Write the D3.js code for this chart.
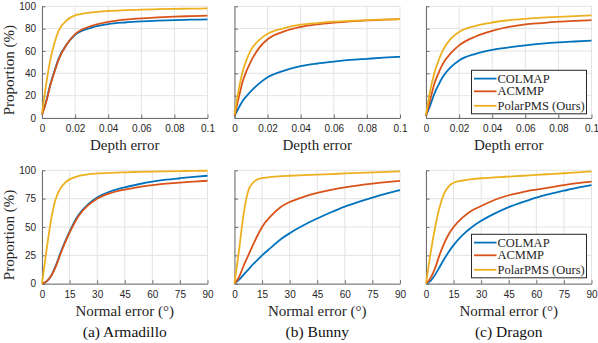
<!DOCTYPE html>
<html>
<head>
<meta charset="utf-8">
<script src="https://cdn.jsdelivr.net/npm/d3@7"></script>
<style>
  body { margin: 0; background: #fff; }
  .tick text { font-family: "Liberation Sans", Arial, sans-serif; font-size: 10px; fill: #262626; }
</style>
</head>
<body>
<div id="chart"></div>
<script>
// data
var methods = ["COLMAP", "ACMMP", "PolarPMS (Ours)"];
var colors = ["#0072BD", "#D95319", "#EDB120"];
var datasets = ["(a) Armadillo", "(b) Bunny", "(c) Dragon"];

var depthX = [0, 0.0025, 0.005, 0.0075, 0.01, 0.015, 0.02, 0.03, 0.04, 0.05, 0.06, 0.07, 0.08, 0.09, 0.1];
var depthTicks = [0, 0.02, 0.04, 0.06, 0.08, 0.1];
var depthYTicks = [0, 20, 40, 60, 80, 100];

var armadilloDepth = [
  [3, 15, 30, 42, 53, 66, 74.5, 81, 84, 85.5, 86.5, 87.2, 87.7, 88, 88.3],
  [3, 14, 29, 41, 52, 66, 75, 82.5, 86, 88, 89.2, 90, 90.7, 91.2, 91.6],
  [4, 30, 52, 67, 78, 87.5, 91.8, 94.5, 95.8, 96.5, 97, 97.4, 97.7, 97.9, 98.1]
];
var bunnyDepth = [
  [2, 9, 15.5, 20, 24, 31, 36.5, 42.5, 46.5, 48.8, 50.5, 52, 53, 54, 54.8],
  [2, 18, 33, 43, 51, 63, 70.5, 77.5, 81.5, 83.8, 85.3, 86.5, 87.4, 88, 88.5],
  [3, 25, 42, 53, 61, 70, 75.5, 80.5, 83.5, 85, 86.2, 87, 87.6, 88.1, 88.5]
];
var dragonDepth = [
  [2, 11, 21.5, 29.5, 36.5, 45.5, 51.5, 57.5, 61, 63.2, 65, 66.5, 67.7, 68.5, 69.2],
  [2, 16, 30.5, 40, 48, 58, 65, 73, 78, 81.5, 83.8, 85, 86.2, 87, 87.6],
  [3, 24, 40, 51, 60, 71, 77, 82.5, 85.5, 87.5, 88.8, 89.8, 90.5, 91.2, 91.8]
];

var normalX = [0, 2.5, 5, 7.5, 10, 12.5, 15, 20, 25, 30, 37.5, 45, 52.5, 60, 67.5, 75, 82.5, 90];
var normalTicks = [0, 15, 30, 45, 60, 75, 90];
var normalYTicks = [0, 25, 50, 75, 100];

var armadilloNormal = [
  [0, 2, 7, 16, 27, 37, 46, 61, 70, 76, 81.5, 85, 87.7, 90, 91.7, 93, 94.2, 95.2],
  [0, 2, 7, 15, 26, 36, 45, 60, 69, 75, 80, 83, 85.2, 87, 88.2, 89.2, 90, 90.8],
  [0, 30, 57, 75, 84, 89, 92, 95, 96.5, 97.2, 97.8, 98.2, 98.6, 98.9, 99.1, 99.3, 99.5, 99.6]
];
var bunnyNormal = [
  [0, 3.5, 8, 12.5, 17, 21, 25, 32, 39, 44.5, 51.5, 57.5, 63, 68, 72.2, 76, 79.5, 82.6],
  [0, 6, 16, 25, 34, 42.5, 50, 60, 67.5, 72, 76.5, 80, 82.8, 85, 86.8, 88.3, 89.5, 90.6],
  [0, 30, 62, 82, 89, 92, 93, 94.2, 94.8, 95.2, 95.7, 96.2, 96.7, 97.2, 97.7, 98.2, 98.6, 99]
];
var dragonNormal = [
  [0, 2.5, 8, 15, 22, 28.5, 34, 43, 50, 55.5, 62, 67.5, 72, 76, 79.2, 82, 84.7, 87],
  [0, 5, 14, 26, 36, 44, 50, 58.5, 64.5, 68.5, 74, 78, 80.8, 83, 85, 87, 88.7, 90],
  [0, 27, 50, 68, 80, 86, 89, 91, 92.2, 93, 93.8, 94.5, 95.2, 96, 96.7, 97.4, 98.2, 99]
];

var width = 598, height = 343;
var colLeft = [42, 234.5, 426], panelW = 165.5;
var serif = "'Liberation Serif', 'DejaVu Serif', 'Times New Roman', serif";

var rows = [
  { top: 6.3, bottom: 118, xs: depthX, xmax: 0.1, xticks: depthTicks, yticks: depthYTicks,
    xlabel: "Depth error", series: [armadilloDepth, bunnyDepth, dragonDepth] },
  { top: 170.3, bottom: 283.7, xs: normalX, xmax: 90, xticks: normalTicks, yticks: normalYTicks,
    xlabel: "Normal error (\u00B0)", series: [armadilloNormal, bunnyNormal, dragonNormal] }
];

var svg = d3.select("#chart").append("svg")
  .attr("width", width)
  .attr("height", height)
  .style("background", "#fff");

rows.forEach(function(row, r) {
  colLeft.forEach(function(left, c) {
    var x = d3.scaleLinear().domain([0, row.xmax]).range([left, left + panelW]);
    var y = d3.scaleLinear().domain([0, 100]).range([row.bottom, row.top]);
    var g = svg.append("g");

    // grid
    g.append("g").selectAll("line").data(row.xticks).enter().append("line")
      .attr("x1", function(d) { return x(d); }).attr("x2", function(d) { return x(d); })
      .attr("y1", row.top).attr("y2", row.bottom)
      .attr("stroke", "#e3e3e3").attr("stroke-width", 1);
    g.append("g").selectAll("line").data(row.yticks).enter().append("line")
      .attr("x1", left).attr("x2", left + panelW)
      .attr("y1", function(d) { return y(d); }).attr("y2", function(d) { return y(d); })
      .attr("stroke", "#e3e3e3").attr("stroke-width", 1);

    // axes
    var xAxis = d3.axisBottom(x).tickValues(row.xticks).tickSizeInner(-3.5).tickSizeOuter(0)
      .tickPadding(7).tickFormat(function(d) { return String(d); });
    var yAxis = d3.axisLeft(y).tickValues(row.yticks).tickSizeInner(-3.5).tickSizeOuter(0)
      .tickPadding(6).tickFormat(c == 0 ? function(d) { return String(d); } : function() { return ""; });

    var gx = g.append("g").attr("transform", "translate(0," + row.bottom + ")").call(xAxis);
    var gy = g.append("g").attr("transform", "translate(" + left + ",0)").call(yAxis);
    [gx, gy].forEach(function(a) {
      a.select(".domain").attr("stroke", "#6e6e6e").attr("stroke-width", 1);
      a.selectAll(".tick line").attr("stroke", "#6e6e6e");
    });

    // curves
    var line = d3.line()
      .x(function(d, i) { return x(row.xs[i]); })
      .y(function(d) { return y(d); })
      .curve(d3.curveMonotoneX);
    row.series[c].forEach(function(vals, m) {
      g.append("path")
        .datum(vals)
        .attr("fill", "none")
        .attr("stroke", colors[m])
        .attr("stroke-width", 1.8)
        .attr("d", line);
    });

    // x label
    g.append("text")
      .attr("x", left + panelW / 2).attr("y", row.bottom + 32)
      .attr("text-anchor", "middle")
      .attr("font-family", serif).attr("font-size", 15).attr("fill", "#262626")
      .text(row.xlabel);

    if (c == 0) {
      g.append("text")
        .attr("transform", "translate(14," + ((row.top + row.bottom) / 2 + 8) + ") rotate(-90)")
        .attr("text-anchor", "middle")
        .attr("font-family", serif).attr("font-size", 15).attr("fill", "#262626")
        .text("Proportion (%)");
    }

    if (r == 1) {
      g.append("text")
        .attr("x", left + panelW / 2).attr("y", 337)
        .attr("text-anchor", "middle")
        .attr("font-family", serif).attr("font-size", 15.5).attr("fill", "#111")
        .text(datasets[c]);
    }

    // legend
    if (c == 2) {
      var lx = 471.5, ly = row.top + 64, lw = 115, lh = 43.5;
      var lg = g.append("g");
      lg.append("rect").attr("x", lx).attr("y", ly).attr("width", lw).attr("height", lh)
        .attr("fill", "#fff").attr("stroke", "#262626").attr("stroke-width", 1);
      var rowY = [8.3, 21, 35.5];
      methods.forEach(function(name, m) {
        lg.append("line")
          .attr("x1", lx + 2.5).attr("x2", lx + 25)
          .attr("y1", ly + rowY[m]).attr("y2", ly + rowY[m])
          .attr("stroke", colors[m]).attr("stroke-width", 1.8);
        lg.append("text")
          .attr("x", lx + 26).attr("y", ly + rowY[m] + 4)
          .attr("font-family", serif).attr("font-size", 12.5).attr("fill", "#262626")
          .text(name);
      });
    }
  });
});
</script>
</body>
</html>
